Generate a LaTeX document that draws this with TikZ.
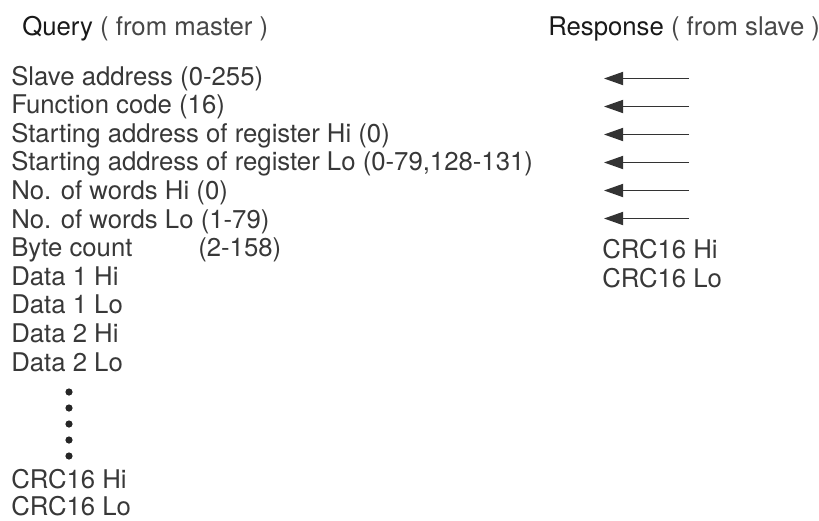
\documentclass[tikz,border=0pt]{standalone}
\usepackage{fontspec}
\setmainfont{TeX Gyre Heros}
\usetikzlibrary{arrows.meta}

\begin{document}
\begin{tikzpicture}[
  x=0.025cm, y=-0.025cm,
  font=\fontsize{18.3}{21}\selectfont,
  head/.style={anchor=base west, inner sep=0pt, text=black!90},
  field/.style={anchor=base west, inner sep=0pt, text=black!78},
  reply/.style={-{Triangle[length=0.48cm, width=0.33cm]}, black!80, line width=0.95pt},
  dot/.style={circle, fill=black!85, inner sep=0pt, minimum size=0.18cm},
]
\useasboundingbox (0,0) rectangle (819,520);

% Headings
\node[head] (query) at (22, 35) {Query \textcolor{black!72}{( from master )}};
\node[head] (resp)  at (548, 35) {Response \textcolor{black!72}{( from slave )}};

% Query frame (left column)
\node[field] (q0)  at (11, 85.0)  {Slave address (0-255)};
\node[field] (q1)  at (11, 113.6) {Function code (16)};
\node[field] (q2)  at (11, 142.2) {Starting address of register Hi (0)};
\node[field] (q3)  at (11, 170.8) {Starting address of register Lo (0-79,128-131)};
\node[field] (q4)  at (11, 199.4) {No. of words Hi (0)};
\node[field] (q5)  at (11, 228.0) {No. of words Lo (1-79)};
\node[field] (q6)  at (11, 256.6) {Byte count};
\node[field] (q6n) at (198, 256.6) {(2-158)};
\node[field] (q7)  at (11, 285.2) {Data 1 Hi};
\node[field] (q8)  at (11, 313.8) {Data 1 Lo};
\node[field] (q9)  at (11, 342.4) {Data 2 Hi};
\node[field] (q10) at (11, 371.0) {Data 2 Lo};

% Ellipsis dots
\node[dot] (d1) at (69, 392) {};
\node[dot] (d2) at (69, 408) {};
\node[dot] (d3) at (69, 424) {};
\node[dot] (d4) at (69, 440) {};
\node[dot] (d5) at (69, 456) {};

\node[field] (qcrchi) at (11, 488) {CRC16 Hi};
\node[field] (qcrclo) at (11, 515) {CRC16 Lo};

% Response frame: echoed fields
\foreach \i in {0,...,5} {
  \coordinate (ra\i) at (689, 78.5+28*\i);
  \coordinate (rb\i) at (604, 78.5+28*\i);
  \draw[reply] (ra\i) -- (rb\i);
}

\node[field] (rcrchi) at (602, 258) {CRC16 Hi};
\node[field] (rcrclo) at (602, 287) {CRC16 Lo};

\end{tikzpicture}
\end{document}
